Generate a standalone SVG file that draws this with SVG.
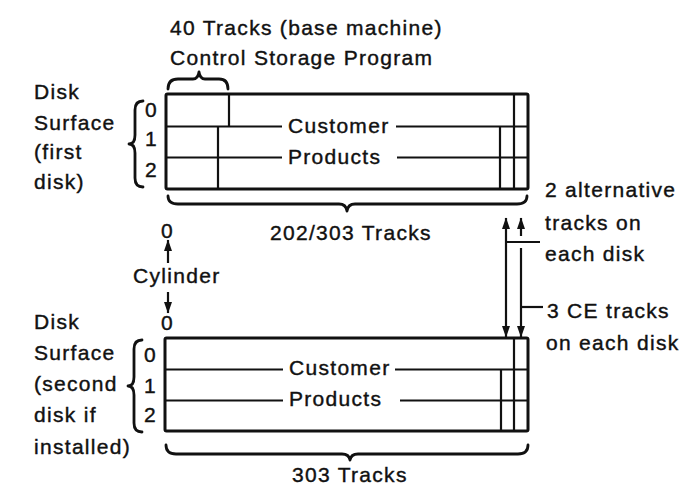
<svg xmlns="http://www.w3.org/2000/svg" width="683" height="488" viewBox="0 0 683 488">
<style>
.t{font-family:"Liberation Sans",Arial,Helvetica,sans-serif;font-size:21px;letter-spacing:1.3px;fill:#111;stroke:#111;stroke-width:0.4}
.box{fill:none;stroke:#111;stroke-width:3}
.ln{fill:none;stroke:#111;stroke-width:2.2}
.br{fill:none;stroke:#111;stroke-width:2.8;stroke-linecap:round;stroke-linejoin:round}
.ar{fill:none;stroke:#111;stroke-width:2.2}
</style>
<defs>
<marker id="ah" markerUnits="userSpaceOnUse" markerWidth="12" markerHeight="9" refX="11" refY="4.5" orient="auto-start-reverse" viewBox="0 0 12 9">
<path d="M0,0.5 L11.5,4.5 L0,8.5 z" fill="#111"/>
</marker>
</defs>
<rect width="683" height="488" fill="#fff"/>

<g id="title-label">
<text class="t" x="170" y="35">40 Tracks (base machine)</text>
<text class="t" x="170" y="65">Control Storage Program</text>
<path class="br" d="M168,89 Q168,79 178,79 L193,79 Q198,79 199,72 Q200,79 205,79 L219,79 Q228,79 228,89"/>
</g>

<g id="first-disk-label">
<text class="t" x="34" y="99">Disk</text>
<text class="t" x="34" y="130">Surface</text>
<text class="t" x="34" y="159">(first</text>
<text class="t" x="34" y="189">disk)</text>
<path class="br" d="M143,101 Q135,101 135,110 L135,135 Q135,144 129,144 Q135,144 135,153 L135,178 Q135,187 143,187"/>
<text class="t" x="145" y="117">0</text>
<text class="t" x="145" y="146">1</text>
<text class="t" x="145" y="177">2</text>
</g>

<g id="first-disk">
<rect class="box" x="166" y="94" width="362" height="95" rx="1.5"/>
<path class="ln" d="M166,126.5 H282 M396,126.5 H528 M166,157.5 H282 M397,157.5 H528"/>
<path class="ln" d="M229,94 V126.5 M218,126.5 V189 M514,94 V189 M500,126.5 V189"/>
<text class="t" x="288" y="133">Customer</text>
<text class="t" x="288" y="164">Products</text>
<path class="br" d="M168,196 Q168,204 178,204 L339,204 Q346,204 347,211 Q348,204 355,204 L517,204 Q527,204 527,196"/>
<text class="t" x="270" y="240">202/303 Tracks</text>
</g>

<g id="cylinder-label">
<text class="t" x="161" y="238">0</text>
<text class="t" x="133" y="283">Cylinder</text>
<text class="t" x="161" y="330">0</text>
</g>

<g id="second-disk-label">
<text class="t" x="34" y="329">Disk</text>
<text class="t" x="34" y="360">Surface</text>
<text class="t" x="34" y="391">(second</text>
<text class="t" x="34" y="422">disk if</text>
<text class="t" x="34" y="454">installed)</text>
<path class="br" d="M142,340 Q134,340 134,349 L134,377 Q134,386 128,386 Q134,386 134,395 L134,423 Q134,432 142,432"/>
<text class="t" x="144" y="362">0</text>
<text class="t" x="144" y="393">1</text>
<text class="t" x="144" y="422">2</text>
</g>

<g id="second-disk">
<rect class="box" x="165" y="338" width="363" height="93" rx="1.5"/>
<path class="ln" d="M165,369.5 H283 M395,369.5 H528 M165,400.5 H283 M400,400.5 H528"/>
<path class="ln" d="M514,338 V431 M501,369.5 V431"/>
<text class="t" x="289" y="375">Customer</text>
<text class="t" x="289" y="406">Products</text>
<path class="br" d="M166,445 Q166,454 176,454 L342,454 Q349,454 350,460 Q351,454 358,454 L518,454 Q528,454 528,445"/>
<text class="t" x="292" y="482">303 Tracks</text>
</g>

<g id="track-notes">
<text class="t" x="545" y="197">2 alternative</text>
<text class="t" x="545" y="230">tracks on</text>
<text class="t" x="545" y="261">each disk</text>
<text class="t" x="547" y="318">3 CE tracks</text>
<text class="t" x="546" y="350">on each disk</text>
</g>

<g id="connectors">
<line class="ar" x1="168" y1="263" x2="168" y2="240" marker-end="url(#ah)"/>
<line class="ar" x1="168" y1="292" x2="168" y2="313" marker-end="url(#ah)"/>
<line class="ar" x1="506" y1="218" x2="506" y2="337" marker-start="url(#ah)" marker-end="url(#ah)"/>
<line class="ar" x1="521" y1="236" x2="521" y2="218" marker-end="url(#ah)"/>
<line class="ar" x1="521" y1="248" x2="521" y2="337" marker-end="url(#ah)"/>
<line class="ar" x1="506" y1="242" x2="540" y2="242"/>
<line class="ar" x1="521" y1="307" x2="543" y2="307"/>
</g>
</svg>
